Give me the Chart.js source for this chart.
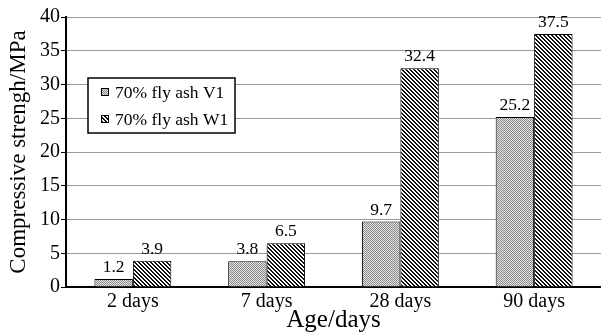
<!DOCTYPE html>
<html>
<head>
<meta charset="utf-8">
<script src="https://cdn.jsdelivr.net/npm/chart.js@4"></script>
<style>
  html, body { margin: 0; padding: 0; background: #fff; }
  #wrap { width: 601px; height: 335px; }
</style>
</head>
<body>
<div id="wrap"><canvas id="chart"></canvas></div>
<script>
var ages = ['2 days', '7 days', '28 days', '90 days']
var v1 = [1.2, 3.8, 9.7, 25.2]
var w1 = [3.9, 6.5, 32.4, 37.5]
var seriesNames = ['70% fly ash V1', '70% fly ash W1']

var serif = '"Liberation Serif", "Times New Roman", serif'

// grey checker fill for V1
function checker()
{
	var c = document.createElement('canvas')
	c.width = 2; c.height = 2
	var g = c.getContext('2d')
	g.fillStyle = '#e2e2e2'
	g.fillRect(0, 0, 2, 2)
	g.fillStyle = '#8c8c8c'
	g.fillRect(0, 0, 1, 1)
	g.fillRect(1, 1, 1, 1)
	return g.createPattern(c, 'repeat')
}

// back-slash stripes for W1
function stripes()
{
	var c = document.createElement('canvas')
	c.width = 4; c.height = 4
	var g = c.getContext('2d')
	g.fillStyle = '#fff'
	g.fillRect(0, 0, 4, 4)
	g.fillStyle = '#111'
	for (var y = 0; y < 4; y++)
		for (var x = 0; x < 4; x++)
			if (((x - y) % 4 + 4) % 4 < 2) g.fillRect(x, y, 1, 1)
	return g.createPattern(c, 'repeat')
}

var fills = [checker(), stripes()]

var valueLabels = {
	id: 'valueLabels',
	afterDatasetsDraw: function(chart)
	{
		var ctx = chart.ctx
		ctx.save()
		ctx.font = '17.5px ' + serif
		ctx.fillStyle = '#000'
		ctx.textAlign = 'center'
		ctx.textBaseline = 'alphabetic'
		chart.data.datasets.forEach(function(ds, i) {
			chart.getDatasetMeta(i).data.forEach(function(bar, j) {
				ctx.fillText(ds.data[j].toFixed(1), bar.x, bar.y - 7)
			})
		})
		ctx.restore()
	}
}

var boxLegend = {
	id: 'boxLegend',
	afterDraw: function(chart)
	{
		var ctx = chart.ctx
		var x0 = 88, y0 = 78, w = 147, h = 55
		ctx.save()
		ctx.fillStyle = '#fff'
		ctx.fillRect(x0, y0, w, h)
		ctx.strokeStyle = '#000'
		ctx.lineWidth = 1.5
		ctx.strokeRect(x0, y0, w, h)
		ctx.font = '17.5px ' + serif
		ctx.textBaseline = 'middle'
		chart.data.datasets.forEach(function(ds, i) {
			var cy = y0 + 14 + i * 27
			ctx.fillStyle = ds.backgroundColor
			ctx.fillRect(x0 + 13, cy - 4, 8, 8)
			ctx.strokeStyle = '#000'
			ctx.lineWidth = 1
			ctx.strokeRect(x0 + 13.5, cy - 3.5, 7, 7)
			ctx.fillStyle = '#000'
			ctx.fillText(ds.label, x0 + 27, cy + 1)
		})
		ctx.restore()
	}
}

new Chart(document.getElementById('chart'), {
	type: 'bar',
	data: {
		labels: ages,
		datasets: [
			{ label: seriesNames[0], data: v1, backgroundColor: fills[0], borderColor: '#000', borderWidth: 1 },
			{ label: seriesNames[1], data: w1, backgroundColor: fills[1], borderColor: '#000', borderWidth: 1 }
		]
	},
	options: {
		responsive: true,
		maintainAspectRatio: false,
		animation: false,
		layout: { padding: { top: 17, right: 0, left: 5, bottom: 0 } },
		datasets: { bar: { categoryPercentage: 0.575, barPercentage: 1 } },
		plugins: {
			legend: { display: false },
			tooltip: { enabled: false }
		},
		scales: {
			x: {
				grid: { display: false, drawTicks: false, tickLength: 0 },
				border: { display: true, color: '#000', width: 2 },
				ticks: { color: '#000', font: { family: serif, size: 20 }, padding: 3 },
				title: { display: true, text: 'Age/days', color: '#000', font: { family: serif, size: 25 }, padding: 0 },
				afterFit: function(s) { s.height = 48 }
			},
			y: {
				min: 0,
				max: 40,
				ticks: { stepSize: 5, color: '#000', font: { family: serif, size: 20 }, padding: 1 },
				grid: { color: '#9a9a9a', lineWidth: 1, tickColor: '#000', tickLength: 5 },
				border: { display: true, color: '#000', width: 2 },
				title: { display: true, text: 'Compressive strengh/MPa', color: '#000', font: { family: serif, size: 23 }, padding: 0 },
				afterFit: function(s) { s.width = 61 }
			}
		}
	},
	plugins: [valueLabels, boxLegend]
})
</script>
</body>
</html>
